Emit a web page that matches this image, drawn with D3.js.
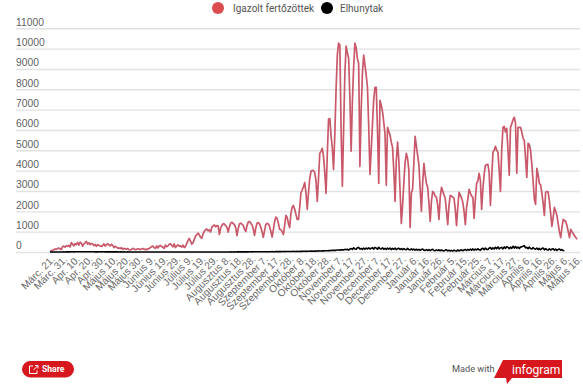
<!DOCTYPE html>
<html><head><meta charset="utf-8">
<script src="https://cdn.jsdelivr.net/npm/d3@7"></script>
<style>
html,body{margin:0;padding:0;background:#fff;overflow:hidden}
svg{display:block;font-family:Roboto,sans-serif}
</style></head><body>
<svg id="c" width="583" height="385"></svg>
<script>
const seriesNames = ["Igazolt fertőzöttek", "Elhunytak"];
const seriesColors = ["#c9596a", "#000000"];
const legendColors = ["#dc4c4e", "#000000"];
const yTicks = [0,1000,2000,3000,4000,5000,6000,7000,8000,9000,10000,11000];
const tickLabels = ["Márc. 21.","Márc. 31.","Apr. 10.","Apr. 20.","Apr. 30.","Május 10.","Május 20.","Május 30.","Június 9.","Június 19.","Június 29.","Július 9.","Július 19.","Július 29.","Augusztus 8.","Augusztus 18.","Augusztus 28.","Szeptember 7.","Szeptember 17.","Szeptember 28.","Október 8.","Október 18.","Október 28.","November 7.","November 17.","November 27.","December 7.","December 17.","December 27.","Január 6.","Január 16.","Január 26.","Február 5.","Február 15.","Február 25.","Március 7.","Március 17.","Március 27.","Április 6.","Április 16.","Április 26.","Május 6.","Május 16."];
const confirmed = [
20,60,80,110,150,130,170,190,160,120,
270,290,240,310,280,330,250,460,390,300,
410,360,470,340,480,430,290,400,450,520,
380,450,360,420,390,310,370,280,360,330,
300,270,320,400,290,360,410,340,300,380,
330,210,280,240,190,200,170,210,130,180,
160,140,170,110,100,130,180,150,120,130,
160,140,120,150,170,130,140,110,160,170,
220,260,290,210,180,300,200,290,320,270,
240,180,340,260,300,380,410,320,250,400,
220,310,350,280,300,240,340,220,270,420,
560,670,540,390,450,620,780,850,930,840,
720,680,890,1010,1100,1130,1040,1090,980,1220,
1280,1330,1240,1300,1290,860,1180,1310,1390,1370,
1300,1210,980,1240,1420,1460,1400,1350,1200,810,
1150,1380,1420,1370,1310,1130,1010,1290,1480,1500,
1420,1330,1140,820,1180,1410,1450,1370,1220,1000,
720,1050,1350,1410,1380,1250,1020,730,1090,1500,
1720,1650,1420,1110,1100,1000,860,1300,1800,1700,
1400,1200,1900,2200,2290,2100,1850,1600,1600,2200,
2900,3050,3200,3420,2900,2100,2900,3600,3970,4010,
4000,3910,3500,2490,3600,4850,4950,5100,4700,3900,
2880,4800,6530,6570,5700,5100,4060,5800,8000,9700,
10270,10180,6000,3230,6000,8800,10120,9800,9530,7600,
4950,7400,9100,10270,10050,9500,9270,4210,7000,8800,
9680,9200,8700,8100,6200,3820,5000,6300,7500,8100,
8100,6000,3370,7460,7220,6900,6380,5800,3280,6130,
5950,5740,5400,5150,4000,2490,4500,5400,4510,3000,
1400,2300,3400,4400,4850,4600,4010,1200,2900,3100,
4400,5690,5200,4750,4300,3100,2000,3400,4360,3800,
3370,3180,2400,1500,2500,2980,2900,2750,2690,2300,
1600,2700,3180,3000,2800,2640,2000,1350,2300,2780,
2750,2700,2640,2100,1300,2200,2930,2800,2650,2440,
2000,1350,2200,2600,3080,2900,2750,2690,1650,2600,
3370,3500,3870,3520,2090,3100,3800,4260,4290,4310,
3900,2290,3600,4900,5000,5200,5000,4900,4000,2980,
5000,6130,6180,5900,6080,5000,3770,6130,6300,6500,
6630,6330,3870,6130,6130,6130,5900,5600,5490,4600,
3670,5340,5300,5000,4300,3500,2600,2340,4110,3800,
3370,3300,2900,2400,1800,2930,2980,2950,2500,1900,
1260,1700,2190,2000,1800,1400,1000,710,1200,1600,
1550,1500,1300,1000,710,1110,1000,910,800,720,620];
const deaths = [
0,0,1,1,1,2,1,2,0,1,
3,4,2,5,8,7,6,9,10,8,
13,9,12,14,11,10,13,12,16,11,
10,14,9,13,10,12,8,10,7,9,
10,8,12,9,7,8,6,9,5,7,
6,8,5,4,6,3,5,4,2,4,
3,2,4,3,1,2,3,1,2,1,
2,1,2,1,0,1,2,1,0,1,
2,1,1,0,1,0,1,2,1,0,
1,0,0,1,0,1,1,0,1,0,
1,0,1,1,0,1,0,1,0,1,
1,0,2,1,0,1,2,1,0,1,
2,1,1,0,1,2,1,0,1,2,
1,1,2,1,0,2,1,3,2,1,
3,2,1,2,4,3,2,5,3,4,
6,4,5,7,6,5,8,10,7,9,
11,8,12,10,9,13,11,10,14,12,
11,15,13,14,16,12,15,17,14,16,
20,18,22,19,17,24,21,20,26,23,
22,28,25,24,30,27,26,32,28,30,
35,30,38,34,32,40,36,38,45,42,
40,48,44,50,55,48,52,60,54,58,
65,60,72,68,75,85,78,90,82,96,
100,92,110,105,98,130,112,135,95,145,
170,125,210,150,130,205,225,140,175,130,
190,135,195,150,200,150,180,215,140,225,
190,135,235,160,145,205,130,185,125,190,
140,195,120,175,135,190,115,170,180,125,
165,115,170,125,110,180,120,105,155,100,
145,95,135,90,130,85,125,145,90,80,
120,75,115,70,110,130,75,65,105,70,
110,60,100,65,55,95,105,55,85,50,
80,45,90,60,45,100,50,85,110,60,
105,120,75,130,85,140,95,150,90,145,
105,160,110,90,155,180,115,195,130,120,
190,220,135,205,145,235,165,250,150,210,
225,155,255,175,265,230,160,240,175,280,
195,265,185,245,170,240,260,280,310,205,
225,165,240,170,150,220,160,135,195,120,
175,110,170,195,105,165,115,95,160,95,
145,165,90,140,80,125,150,85,120,75,60];

const svg = d3.select("#c");
const x = d3.scaleLinear().domain([0, confirmed.length - 1]).range([50, 577]);
const y = d3.scaleLinear().domain([0, 11000]).range([252, 28.3]);

const yAxis = d3.axisLeft(y).tickValues(yTicks).tickSize(-564).tickPadding(0).tickFormat(d3.format("d"));
const gy = svg.append("g").attr("transform", "translate(16,0)").call(yAxis);
gy.select(".domain").remove();
gy.selectAll("line").attr("stroke", "#e2e2e2").attr("stroke-width", 1.4);
gy.selectAll("text").attr("x", 0).attr("dy", "-0.32em").attr("text-anchor", "start")
  .attr("fill", "#5f5f5f").attr("font-size", 10.3);

const tickIdx = tickLabels.map((_, i) => i * 10);
const xAxis = d3.axisBottom(x).tickValues(tickIdx).tickSize(0).tickFormat(d => tickLabels[d / 10]);
const gx = svg.append("g").attr("transform", "translate(0,252)").call(xAxis);
gx.select(".domain").remove();
gx.selectAll("text").attr("text-anchor", "end").attr("fill", "#6a6a6a").attr("font-size", 10.2)
  .attr("dy", 0).attr("y", 0)
  .attr("transform", "translate(5,8) rotate(-45)");

const line = d3.line().x((d, i) => x(i)).y(d => y(d));
svg.append("path").datum(confirmed).attr("fill", "none").attr("stroke", seriesColors[0])
  .attr("stroke-width", 1.7).attr("stroke-linejoin", "round").attr("d", line);
svg.append("path").datum(deaths).attr("fill", "none").attr("stroke", seriesColors[1])
  .attr("stroke-width", 1.6).attr("stroke-linejoin", "round").attr("d", line);

const legendX = [218, 327], legendTextX = [233, 340];
seriesNames.forEach((n, i) => {
  svg.append("circle").attr("cx", legendX[i]).attr("cy", 8).attr("r", 6).attr("fill", legendColors[i]);
  svg.append("text").attr("x", legendTextX[i]).attr("y", 11.5).attr("font-size", 10).attr("fill", "#555").text(n);
});

svg.append("rect").attr("x", 22).attr("y", 361).attr("width", 52).attr("height", 16.5).attr("rx", 8.25).attr("fill", "#d6181e");
svg.append("path").attr("d", "M33 366h-3.5v7.5h7.5v-3M33.5 370l4-4M35 365.5h3v3").attr("fill", "none").attr("stroke", "#fff").attr("stroke-width", 1);
svg.append("text").attr("x", 42).attr("y", 372).attr("font-size", 8.6).attr("font-weight", 700).attr("fill", "#fff").text("Share");

svg.append("text").attr("x", 452).attr("y", 372).attr("font-size", 9.2).attr("fill", "#555").text("Made with");
svg.append("polygon").attr("points", "494,378 503,360 562,360 562,378 512,378 507,384 506,378").attr("fill", "#d6181e");
svg.append("text").attr("x", 512).attr("y", 373.5).attr("font-size", 12).attr("fill", "#fff").text("infogram");
</script>
</body></html>
